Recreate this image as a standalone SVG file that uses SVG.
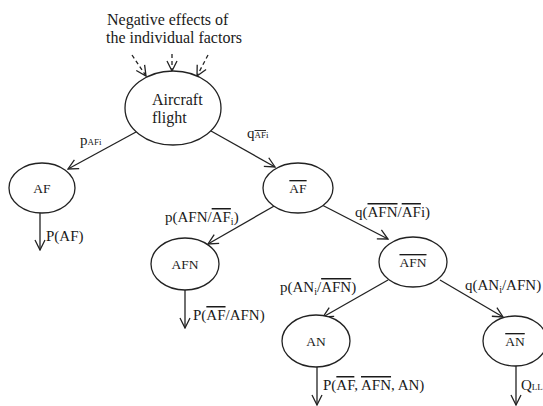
<svg xmlns="http://www.w3.org/2000/svg" width="543" height="406" viewBox="0 0 543 406">
<defs>
<style>
.bg{fill:#fff}
.n{fill:#fff;stroke:#222;stroke-width:1.3}
.e{stroke:#222;stroke-width:1.3;fill:none}
.d{stroke:#222;stroke-width:1.3;fill:none;stroke-dasharray:4 3}
.t{font-size:16px;fill:#1a1a1a}
.nl{font-size:13.5px;text-anchor:middle;fill:#1a1a1a}
.el{font-size:15px;fill:#1a1a1a}
.o{text-decoration:overline}
.sub{font-size:9px}
.si{font-size:10px}
</style>
<marker id="ah" viewBox="-11 -6 12 12" markerWidth="12" markerHeight="12" refX="0" refY="0" orient="auto" markerUnits="userSpaceOnUse">
<path d="M-10,-5 L0,0 L-10,5" fill="none" stroke="#222" stroke-width="1.3"/>
</marker>
</defs>
<rect class="bg" x="0" y="0" width="543" height="406"/>

<g id="title" font-family="Liberation Serif">
<text class="t" x="107" y="25" font-family="Liberation Serif">Negative effects of</text>
<text class="t" x="106" y="43" font-family="Liberation Serif">the individual factors</text>
</g>

<g id="connectors">
<line class="d" x1="132" y1="55" x2="146" y2="76" marker-end="url(#ah)"/>
<line class="d" x1="172" y1="54" x2="172" y2="71" marker-end="url(#ah)"/>
<line class="d" x1="208" y1="55" x2="197" y2="76" marker-end="url(#ah)"/>
<line class="e" x1="136" y1="132" x2="68" y2="169" marker-end="url(#ah)"/>
<line class="e" x1="211" y1="131" x2="275" y2="167" marker-end="url(#ah)"/>
<line class="e" x1="40" y1="213" x2="40" y2="250" marker-end="url(#ah)"/>
<line class="e" x1="276" y1="205" x2="208" y2="244" marker-end="url(#ah)"/>
<line class="e" x1="322" y1="205" x2="388" y2="239" marker-end="url(#ah)"/>
<line class="e" x1="185" y1="290" x2="185" y2="328" marker-end="url(#ah)"/>
<line class="e" x1="388" y1="280" x2="323" y2="317" marker-end="url(#ah)"/>
<line class="e" x1="440" y1="280" x2="503" y2="317" marker-end="url(#ah)"/>
<line class="e" x1="317" y1="367" x2="317" y2="405" marker-end="url(#ah)"/>
<line class="e" x1="516" y1="366" x2="516" y2="405" marker-end="url(#ah)"/>
</g>

<g id="edge-labels" font-family="Liberation Serif">
<text class="el" font-family="Liberation Serif" x="80" y="145">p<tspan class="sub">AFi</tspan></text>
<text class="el" font-family="Liberation Serif" x="247" y="138">q<tspan class="sub"><tspan class="o">AF</tspan>i</tspan></text>
<text class="el" font-family="Liberation Serif" x="46" y="241">P(AF)</text>
<text class="el" font-family="Liberation Serif" x="165" y="222">p(AFN/<tspan class="o">AF</tspan><tspan class="si" dy="3">i</tspan><tspan dy="-3">)</tspan></text>
<text class="el" font-family="Liberation Serif" x="355" y="217">q(<tspan class="o">AFN</tspan>/<tspan class="o">AF</tspan>i)</text>
<text class="el" font-family="Liberation Serif" x="193" y="320">P(<tspan class="o">AF</tspan>/AFN)</text>
<text class="el" font-family="Liberation Serif" x="280" y="292">p(AN<tspan class="si" dy="3">i</tspan><tspan dy="-3">/</tspan><tspan class="o">AFN</tspan>)</text>
<text class="el" font-family="Liberation Serif" x="465" y="290">q(AN<tspan class="si" dy="3">i</tspan><tspan dy="-3">/AFN)</tspan></text>
<text class="el" font-family="Liberation Serif" x="323" y="390">P(<tspan class="o">AF</tspan>, <tspan class="o">AFN</tspan>, AN)</text>
<text class="el" font-family="Liberation Serif" x="521" y="390">Q<tspan class="sub">LL</tspan></text>
</g>

<g id="node-flight" font-family="Liberation Serif">
<ellipse class="n" cx="173" cy="108" rx="48" ry="37"/>
<text class="t" font-family="Liberation Serif" x="152" y="105">Aircraft</text>
<text class="t" font-family="Liberation Serif" x="152" y="123">flight</text>
</g>
<g id="node-AF" font-family="Liberation Serif">
<ellipse class="n" cx="42" cy="188" rx="33" ry="25"/>
<text class="nl" font-family="Liberation Serif" x="42" y="193">AF</text>
</g>
<g id="node-AFbar" font-family="Liberation Serif">
<ellipse class="n" cx="298" cy="188" rx="35" ry="25"/>
<text class="nl" font-family="Liberation Serif" x="298" y="193"><tspan class="o">AF</tspan></text>
</g>
<g id="node-AFN" font-family="Liberation Serif">
<ellipse class="n" cx="185" cy="264" rx="34" ry="26"/>
<text class="nl" font-family="Liberation Serif" x="185" y="269">AFN</text>
</g>
<g id="node-AFNbar" font-family="Liberation Serif">
<ellipse class="n" cx="413" cy="262" rx="34" ry="25"/>
<text class="nl" font-family="Liberation Serif" x="413" y="267"><tspan class="o">AFN</tspan></text>
</g>
<g id="node-AN" font-family="Liberation Serif">
<ellipse class="n" cx="316" cy="341" rx="34" ry="26"/>
<text class="nl" font-family="Liberation Serif" x="316" y="346">AN</text>
</g>
<g id="node-ANbar" font-family="Liberation Serif">
<ellipse class="n" cx="515" cy="341" rx="32" ry="25"/>
<text class="nl" font-family="Liberation Serif" x="515" y="346"><tspan class="o">AN</tspan></text>
</g>
</svg>
